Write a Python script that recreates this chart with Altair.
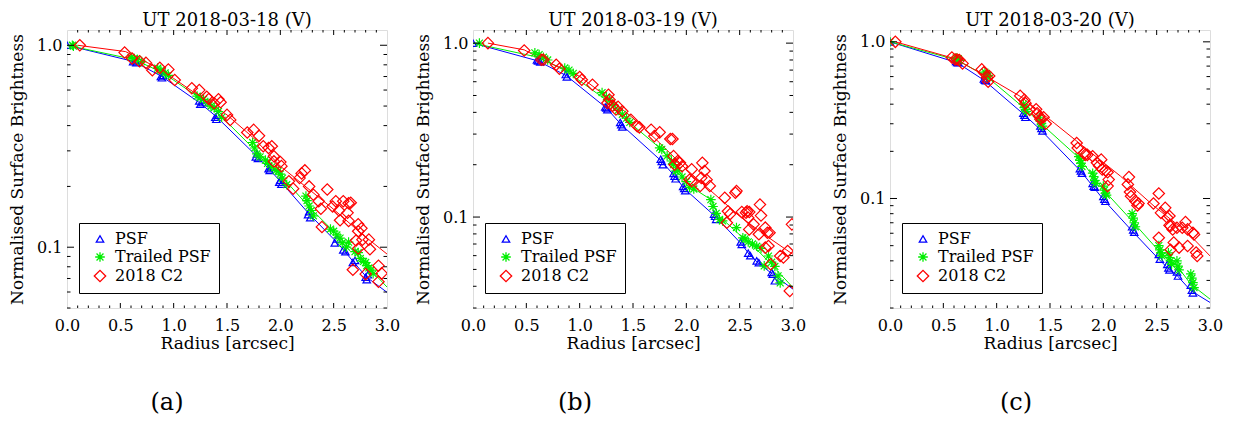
import altair as alt
import pandas as pd

# ---------------- data ----------------
SERIES = ["PSF", "Trailed PSF", "2018 C2"]
TITLES = ["UT 2018-03-18 (V)", "UT 2018-03-19 (V)", "UT 2018-03-20 (V)"]
CAPTIONS = ["(a)", "(b)", "(c)"]
Y_MIN = [0.05, 0.03, 0.02]
Y_MAX = 1.19
X_MAJOR = [0.0, 0.5, 1.0, 1.5, 2.0, 2.5, 3.0]
Y_MAJOR = [0.1, 1.0]

# Panel (a) 2018-03-18
A_PSF_R = [0.00, 0.62, 0.64, 0.65, 0.88, 0.89, 0.90, 1.24, 1.25, 1.27, 1.39, 1.40, 1.41, 1.77, 1.78, 1.79, 1.89, 1.90, 1.91, 1.99, 2.00, 2.01, 2.26, 2.27, 2.28, 2.51, 2.53, 2.59, 2.61, 2.68, 2.70, 2.80, 2.81, 2.82]
A_PSF_V = [1.00, 0.83, 0.84, 0.82, 0.70, 0.69, 0.71, 0.53, 0.51, 0.52, 0.44, 0.43, 0.45, 0.28, 0.29, 0.275, 0.245, 0.24, 0.25, 0.21, 0.215, 0.205, 0.145, 0.15, 0.14, 0.105, 0.11, 0.097, 0.095, 0.084, 0.086, 0.071, 0.069, 0.073]
A_TRL_R = [0.05, 0.06, 0.60, 0.63, 0.66, 0.70, 0.85, 0.88, 0.92, 0.95, 1.22, 1.25, 1.28, 1.32, 1.35, 1.38, 1.42, 1.45, 1.74, 1.76, 1.78, 1.81, 1.86, 1.88, 1.92, 1.96, 1.98, 2.00, 2.02, 2.06, 2.24, 2.25, 2.27, 2.29, 2.31, 2.47, 2.50, 2.53, 2.56, 2.58, 2.62, 2.64, 2.70, 2.73, 2.75, 2.78, 2.80, 2.81, 2.83, 2.85, 2.87]
A_TRL_V = [1.00, 0.99, 0.87, 0.86, 0.85, 0.83, 0.77, 0.75, 0.73, 0.71, 0.56, 0.55, 0.54, 0.52, 0.50, 0.49, 0.47, 0.44, 0.33, 0.31, 0.29, 0.28, 0.27, 0.26, 0.25, 0.24, 0.238, 0.23, 0.22, 0.204, 0.179, 0.17, 0.16, 0.152, 0.143, 0.123, 0.12, 0.115, 0.111, 0.105, 0.10, 0.106, 0.095, 0.094, 0.088, 0.085, 0.084, 0.081, 0.079, 0.077, 0.074]
A_C2_R = [0.12, 0.54, 0.61, 0.68, 0.74, 0.80, 0.87, 0.95, 1.01, 1.17, 1.24, 1.31, 1.33, 1.38, 1.42, 1.44, 1.50, 1.53, 1.69, 1.75, 1.80, 1.84, 1.89, 1.92, 1.94, 1.94, 2.00, 2.01, 2.08, 2.12, 2.18, 2.20, 2.23, 2.27, 2.31, 2.36, 2.38, 2.39, 2.44, 2.49, 2.52, 2.55, 2.56, 2.59, 2.63, 2.64, 2.66, 2.64, 2.73, 2.73, 2.76, 2.71, 2.73, 2.83, 2.84, 2.77, 2.68, 2.80, 2.92, 2.95, 2.92]
A_C2_V = [1.00, 0.92, 0.86, 0.834, 0.818, 0.753, 0.773, 0.759, 0.673, 0.612, 0.600, 0.556, 0.542, 0.516, 0.540, 0.522, 0.452, 0.427, 0.370, 0.381, 0.356, 0.316, 0.310, 0.316, 0.282, 0.266, 0.264, 0.252, 0.212, 0.195, 0.220, 0.232, 0.240, 0.200, 0.182, 0.169, 0.155, 0.126, 0.193, 0.159, 0.169, 0.152, 0.136, 0.169, 0.148, 0.165, 0.166, 0.135, 0.130, 0.120, 0.124, 0.108, 0.0985, 0.109, 0.0978, 0.109, 0.0773, 0.0736, 0.081, 0.0742, 0.0675]
A_PSF_FIT_R = [0.0, 0.63, 0.89, 1.25, 1.40, 1.78, 1.90, 2.00, 2.27, 2.52, 2.60, 2.69, 2.81, 3.0]
A_PSF_FIT_V = [1.0, 0.83, 0.70, 0.516, 0.443, 0.282, 0.242, 0.212, 0.146, 0.107, 0.096, 0.084, 0.071, 0.0598]
A_TRL_FIT_R = [0.0, 0.63, 0.90, 1.25, 1.40, 1.77, 1.90, 2.00, 2.27, 2.52, 2.60, 2.70, 2.82, 3.0]
A_TRL_FIT_V = [1.0, 0.85, 0.73, 0.545, 0.47, 0.30, 0.262, 0.228, 0.158, 0.117, 0.106, 0.094, 0.080, 0.0635]
A_C2_FIT_R = [0.10, 0.55, 0.80, 1.00, 1.25, 1.50, 1.75, 2.00, 2.25, 2.50, 2.75, 3.0]
A_C2_FIT_V = [1.0, 0.93, 0.797, 0.685, 0.556, 0.452, 0.347, 0.252, 0.197, 0.154, 0.118, 0.0925]

# Panel (b) 2018-03-19
B_PSF_R = [0.00, 0.60, 0.61, 0.63, 0.87, 0.88, 1.24, 1.25, 1.26, 1.38, 1.39, 1.40, 1.76, 1.77, 1.78, 1.88, 1.89, 1.90, 1.97, 1.98, 1.99, 2.26, 2.27, 2.28, 2.51, 2.52, 2.58, 2.60, 2.66, 2.68, 2.80, 2.81, 2.83]
B_PSF_V = [1.00, 0.80, 0.79, 0.78, 0.66, 0.64, 0.43, 0.424, 0.415, 0.35, 0.34, 0.33, 0.215, 0.209, 0.20, 0.178, 0.172, 0.166, 0.15, 0.146, 0.142, 0.104, 0.101, 0.097, 0.072, 0.0697, 0.062, 0.060, 0.056, 0.0547, 0.048, 0.0469, 0.043]
B_TRL_R = [0.06, 0.58, 0.62, 0.66, 0.70, 0.86, 0.90, 0.94, 1.21, 1.25, 1.28, 1.32, 1.36, 1.40, 1.44, 1.47, 1.75, 1.77, 1.82, 1.86, 1.88, 1.90, 1.92, 1.96, 2.00, 2.03, 2.07, 2.23, 2.25, 2.28, 2.31, 2.34, 2.47, 2.53, 2.55, 2.58, 2.62, 2.66, 2.70, 2.73, 2.77, 2.80, 2.83, 2.86, 2.88]
B_TRL_V = [1.00, 0.88, 0.86, 0.83, 0.80, 0.72, 0.70, 0.67, 0.52, 0.49, 0.47, 0.44, 0.41, 0.39, 0.37, 0.35, 0.25, 0.245, 0.225, 0.21, 0.20, 0.184, 0.185, 0.17, 0.16, 0.148, 0.145, 0.126, 0.115, 0.105, 0.097, 0.095, 0.087, 0.076, 0.075, 0.072, 0.07, 0.068, 0.066, 0.0524, 0.0597, 0.055, 0.052, 0.0459, 0.0418]
B_C2_R = [0.14, 0.48, 0.64, 0.66, 0.78, 0.81, 1.00, 1.02, 1.12, 1.27, 1.28, 1.26, 1.31, 1.36, 1.34, 1.40, 1.48, 1.54, 1.56, 1.67, 1.70, 1.75, 1.85, 1.87, 1.88, 1.89, 1.92, 1.94, 1.96, 2.03, 2.05, 2.05, 2.13, 2.14, 2.15, 2.17, 2.19, 2.22, 2.36, 2.39, 2.41, 2.38, 2.46, 2.47, 2.52, 2.56, 2.57, 2.59, 2.58, 2.63, 2.59, 2.68, 2.69, 2.70, 2.74, 2.76, 2.78, 2.74, 2.77, 2.79, 2.88, 2.91, 2.95, 2.97, 2.99]
B_C2_V = [1.00, 0.908, 0.802, 0.802, 0.751, 0.712, 0.638, 0.616, 0.577, 0.505, 0.473, 0.453, 0.437, 0.430, 0.415, 0.406, 0.363, 0.333, 0.328, 0.318, 0.292, 0.307, 0.281, 0.281, 0.224, 0.200, 0.210, 0.205, 0.196, 0.164, 0.161, 0.188, 0.151, 0.168, 0.205, 0.184, 0.164, 0.151, 0.129, 0.108, 0.104, 0.0927, 0.138, 0.141, 0.107, 0.106, 0.108, 0.107, 0.0991, 0.0908, 0.0849, 0.0796, 0.118, 0.102, 0.0869, 0.0813, 0.0813, 0.0667, 0.0682, 0.0535, 0.0597, 0.0585, 0.0638, 0.0376, 0.0908]
B_PSF_FIT_R = [0.0, 0.61, 0.875, 1.25, 1.39, 1.77, 1.89, 1.98, 2.27, 2.52, 2.59, 2.67, 2.81, 3.0]
B_PSF_FIT_V = [1.0, 0.79, 0.65, 0.424, 0.34, 0.209, 0.172, 0.146, 0.101, 0.0697, 0.061, 0.0547, 0.0469, 0.0385]
B_TRL_FIT_R = [0.0, 0.61, 0.875, 1.23, 1.375, 1.75, 1.90, 2.03, 2.23, 2.31, 2.53, 2.69, 2.81, 3.0]
B_TRL_FIT_V = [1.0, 0.83, 0.69, 0.48, 0.39, 0.25, 0.196, 0.151, 0.126, 0.101, 0.076, 0.0624, 0.0524, 0.0393]
B_C2_FIT_R = [0.14, 0.48, 0.66, 1.00, 1.25, 1.50, 1.75, 2.00, 2.25, 2.50, 2.75, 3.0]
B_C2_FIT_V = [1.0, 0.915, 0.80, 0.644, 0.494, 0.371, 0.267, 0.188, 0.138, 0.101, 0.0778, 0.061]

# Panel (c) 2018-03-20
C_PSF_R = [0.00, 0.62, 0.63, 0.64, 0.88, 0.89, 0.90, 1.25, 1.26, 1.27, 1.41, 1.42, 1.43, 1.78, 1.79, 1.80, 1.90, 1.91, 1.92, 2.00, 2.01, 2.02, 2.27, 2.28, 2.29, 2.52, 2.53, 2.60, 2.61, 2.62, 2.69, 2.70, 2.82, 2.83, 2.84]
C_PSF_V = [1.00, 0.75, 0.74, 0.735, 0.58, 0.57, 0.565, 0.35, 0.34, 0.33, 0.29, 0.28, 0.27, 0.155, 0.15, 0.145, 0.125, 0.12, 0.118, 0.103, 0.099, 0.096, 0.066, 0.063, 0.061, 0.044, 0.041, 0.038, 0.036, 0.035, 0.034, 0.032, 0.028, 0.026, 0.025]
C_TRL_R = [0.00, 0.62, 0.63, 0.64, 0.65, 0.89, 0.90, 0.91, 0.92, 1.25, 1.26, 1.27, 1.28, 1.40, 1.41, 1.42, 1.43, 1.77, 1.78, 1.79, 1.80, 1.90, 1.91, 1.92, 1.93, 2.00, 2.01, 2.02, 2.03, 2.27, 2.28, 2.29, 2.30, 2.52, 2.53, 2.54, 2.55, 2.61, 2.62, 2.63, 2.64, 2.69, 2.70, 2.71, 2.82, 2.83, 2.84, 2.85]
C_TRL_V = [1.00, 0.79, 0.77, 0.78, 0.76, 0.64, 0.62, 0.60, 0.61, 0.40, 0.38, 0.37, 0.36, 0.33, 0.31, 0.30, 0.29, 0.185, 0.175, 0.168, 0.16, 0.145, 0.138, 0.13, 0.125, 0.12, 0.113, 0.108, 0.105, 0.08, 0.075, 0.07, 0.066, 0.05, 0.047, 0.045, 0.043, 0.045, 0.042, 0.04, 0.038, 0.04, 0.037, 0.035, 0.033, 0.031, 0.029, 0.027]
C_C2_R = [0.05, 0.58, 0.61, 0.63, 0.65, 0.68, 0.86, 0.88, 0.91, 0.92, 0.93, 1.22, 1.26, 1.27, 1.31, 1.37, 1.38, 1.40, 1.41, 1.44, 1.46, 1.75, 1.76, 1.82, 1.83, 1.85, 1.90, 1.94, 1.96, 1.98, 1.99, 2.02, 2.04, 2.04, 2.05, 2.23, 2.24, 2.25, 2.26, 2.30, 2.32, 2.33, 2.47, 2.52, 2.52, 2.54, 2.58, 2.60, 2.62, 2.62, 2.63, 2.63, 2.65, 2.66, 2.69, 2.71, 2.74, 2.77, 2.79, 2.79, 2.84, 2.85, 2.87, 2.88]
C_C2_V = [1.00, 0.795, 0.772, 0.772, 0.765, 0.728, 0.667, 0.638, 0.593, 0.557, 0.605, 0.452, 0.426, 0.406, 0.368, 0.371, 0.350, 0.334, 0.321, 0.330, 0.300, 0.226, 0.210, 0.195, 0.190, 0.190, 0.186, 0.169, 0.162, 0.177, 0.153, 0.151, 0.147, 0.120, 0.132, 0.123, 0.137, 0.110, 0.1035, 0.0962, 0.0903, 0.0929, 0.0929, 0.1076, 0.0562, 0.081, 0.0872, 0.0754, 0.0773, 0.0674, 0.047, 0.0667, 0.0635, 0.0523, 0.0651, 0.0486, 0.0651, 0.0707, 0.0498, 0.0635, 0.0605, 0.059, 0.0452, 0.043]
C_PSF_FIT_R = [0.0, 0.63, 0.88, 1.26, 1.41, 1.79, 1.90, 2.00, 2.27, 2.52, 2.60, 2.68, 2.82, 3.0]
C_PSF_FIT_V = [1.0, 0.736, 0.57, 0.342, 0.275, 0.149, 0.12, 0.0986, 0.062, 0.041, 0.0362, 0.0329, 0.0258, 0.0217]
C_TRL_FIT_R = [0.0, 0.63, 0.90, 1.26, 1.41, 1.79, 1.90, 2.00, 2.27, 2.52, 2.60, 2.69, 2.82, 3.0]
C_TRL_FIT_V = [1.0, 0.765, 0.605, 0.377, 0.303, 0.177, 0.139, 0.114, 0.0718, 0.0463, 0.041, 0.0372, 0.0284, 0.0228]
C_C2_FIT_R = [0.05, 0.60, 0.88, 1.225, 1.54, 1.85, 2.16, 2.475, 2.79, 3.0]
C_C2_FIT_V = [1.0, 0.784, 0.614, 0.447, 0.303, 0.205, 0.139, 0.0894, 0.0605, 0.043]

# ---------------- style ----------------
COLORS = ["#0000ff", "#00ee00", "#ff0000"]
ASTER = "M0,-1L0,1M-1,0L1,0M-0.72,-0.72L0.72,0.72M-0.72,0.72L0.72,-0.72"
SHAPES = ["triangle-up", ASTER, "diamond"]
SIZES = [55, 130, 60]
W, H = 320, 278
FONT = "DejaVu Serif"

X_MINOR = [round(i * 0.1, 1) for i in range(1, 30) if i % 5]
X_MAJ_IN = [x for x in X_MAJOR if 0 < x < 3]


def build_panel(idx, pts, fits, cap_x):
    ymin = Y_MIN[idx]
    y_minor = [round(k * 10.0 ** e, 3) for e in (-2, -1) for k in range(2, 10)]
    y_minor = [v for v in y_minor if ymin <= v <= Y_MAX]

    xs = alt.Scale(domain=[0, 3], nice=False, zero=False, padding=0)
    ys = alt.Scale(type="log", domain=[ymin, Y_MAX], nice=False, padding=0)
    xax = alt.Axis(values=X_MAJOR, format=".1f", ticks=False, domain=False, grid=False,
                   labelFlush=False, labelOverlap=False,
                   title="Radius [arcsec]", labelFont=FONT, labelFontSize=16,
                   titleFont=FONT, titleFontSize=17, titleFontWeight="normal",
                   labelPadding=9, titlePadding=2, labelColor="black", titleColor="black")
    yax = alt.Axis(values=Y_MAJOR, format=".1f", ticks=False, domain=False, grid=False,
                   labelFlush=False, labelOverlap=False,
                   title="Normalised Surface Brightness", labelFont=FONT, labelFontSize=16,
                   titleFont=FONT, titleFontSize=17, titleFontWeight="normal",
                   labelPadding=5, titlePadding=10, labelColor="black", titleColor="black")
    X = alt.X("r:Q", scale=xs, axis=xax)
    Y = alt.Y("v:Q", scale=ys, axis=yax)

    rows = []
    for s, rr, vv in pts:
        rows += [{"series": s, "r": a, "v": b} for a, b in zip(rr, vv)]
    df = pd.DataFrame(rows)

    layers = []
    for s, rr, vv in fits:
        fdf = pd.DataFrame({"r": rr, "v": vv})
        layers.append(alt.Chart(fdf).mark_line(color=COLORS[SERIES.index(s)], strokeWidth=1, clip=True)
                      .encode(x=X, y=Y))

    leg = alt.Legend(orient="none", legendX=12, legendY=193, title=None,
                     strokeColor="black", fillColor="white", padding=8,
                     labelFont=FONT, labelFontSize=16, labelColor="black",
                     symbolStrokeWidth=1.3, rowPadding=2, labelOffset=7, symbolOffset=5)
    layers.append(alt.Chart(df).mark_point(filled=False, strokeWidth=1.2, clip=True, opacity=1)
                  .encode(x=X, y=Y,
                          color=alt.Color("series:N", scale=alt.Scale(domain=SERIES, range=COLORS), legend=leg),
                          shape=alt.Shape("series:N", scale=alt.Scale(domain=SERIES, range=SHAPES), legend=leg),
                          size=alt.Size("series:N", scale=alt.Scale(domain=SERIES, range=SIZES), legend=leg),
                          order=alt.Order("ord:Q")).transform_calculate(
                              ord="indexof(['PSF','Trailed PSF','2018 C2'], datum.series)"))

    # inward ticks on all four sides
    def xticks(vals, length):
        d = pd.DataFrame({"r": vals})
        base = alt.Chart(d).mark_rule(color="black", strokeWidth=1)
        return [base.encode(x=X, y=alt.value(H), y2=alt.value(H - length)),
                base.encode(x=X, y=alt.value(0), y2=alt.value(length))]

    def yticks(vals, length):
        d = pd.DataFrame({"v": vals})
        base = alt.Chart(d).mark_rule(color="black", strokeWidth=1)
        return [base.encode(y=Y, x=alt.value(0), x2=alt.value(length)),
                base.encode(y=Y, x=alt.value(W), x2=alt.value(W - length))]

    layers += xticks(X_MAJ_IN, 5) + xticks(X_MINOR, 2.5)
    layers += yticks(Y_MAJOR, 7) + yticks(y_minor, 3.5)

    cap = alt.Chart(pd.DataFrame({"t": [CAPTIONS[idx]]})).mark_text(
        font=FONT, fontSize=24, baseline="middle", align="center", color="black"
    ).encode(x=alt.value(cap_x), y=alt.value(373), text="t:N")
    layers.append(cap)

    return alt.layer(*layers).properties(
        width=W, height=H,
        title=alt.TitleParams(TITLES[idx], font=FONT, fontSize=18, fontWeight="normal",
                              offset=0, anchor="middle", color="black"),
    )


pa = build_panel(0, [("PSF", A_PSF_R, A_PSF_V), ("Trailed PSF", A_TRL_R, A_TRL_V), ("2018 C2", A_C2_R, A_C2_V)],
                 [("PSF", A_PSF_FIT_R, A_PSF_FIT_V), ("Trailed PSF", A_TRL_FIT_R, A_TRL_FIT_V), ("2018 C2", A_C2_FIT_R, A_C2_FIT_V)], 100)
pb = build_panel(1, [("PSF", B_PSF_R, B_PSF_V), ("Trailed PSF", B_TRL_R, B_TRL_V), ("2018 C2", B_C2_R, B_C2_V)],
                 [("PSF", B_PSF_FIT_R, B_PSF_FIT_V), ("Trailed PSF", B_TRL_FIT_R, B_TRL_FIT_V), ("2018 C2", B_C2_FIT_R, B_C2_FIT_V)], 102)
pc = build_panel(2, [("PSF", C_PSF_R, C_PSF_V), ("Trailed PSF", C_TRL_R, C_TRL_V), ("2018 C2", C_C2_R, C_C2_V)],
                 [("PSF", C_PSF_FIT_R, C_PSF_FIT_V), ("Trailed PSF", C_TRL_FIT_R, C_TRL_FIT_V), ("2018 C2", C_C2_FIT_R, C_C2_FIT_V)], 126)

inner = alt.hconcat(pa, pb, spacing=13).resolve_scale(color="independent", shape="independent", size="independent")
chart = alt.hconcat(inner, pc, spacing=24).resolve_scale(
    color="independent", shape="independent", size="independent"
).properties(padding={"left": 0, "top": 3, "right": 0, "bottom": 0}).configure_view(
    stroke="black", strokeWidth=1
).configure(background="white")

chart.save("out.html", embed_options={"renderer": "svg", "actions": False})
